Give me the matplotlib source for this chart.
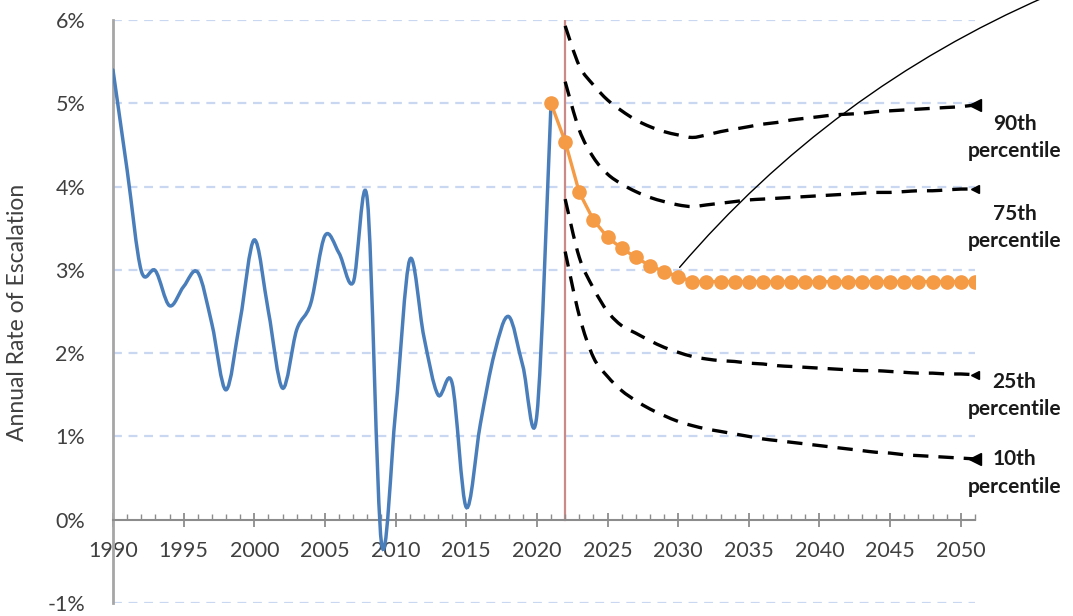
from matplotlib import pyplot as plt
from matplotlib.path import Path
from matplotlib.patches import PathPatch
import numpy as np

plt.rcParams['font.family'] = ['Lato', 'DejaVu Sans']

# historical annual escalation (%)
hist_years = list(range(1990, 2022))
hist_rate = [5.40, 4.20, 2.99, 2.99, 2.57, 2.80, 2.97, 2.35, 1.56, 2.40,
             3.36, 2.50, 1.58, 2.28, 2.60, 3.41, 3.20, 2.85, 3.84, -0.28,
             1.30, 3.12, 2.20, 1.50, 1.64, 0.15, 1.15, 2.00, 2.44, 1.85,
             1.26, 5.00]

# projection (orange)
proj_years = list(range(2021, 2052))
proj_rate = [5.00, 4.54, 3.93, 3.60, 3.39, 3.26, 3.15, 3.05, 2.98, 2.92,
             2.86, 2.86, 2.86, 2.86, 2.86, 2.86, 2.86, 2.86, 2.86, 2.86,
             2.86, 2.86, 2.86, 2.86, 2.86, 2.86, 2.86, 2.86, 2.86, 2.86,
             2.86]

# percentile bands
pct_years = list(range(2022, 2052))
p90 = [5.93, 5.45, 5.22, 5.04, 4.91, 4.80, 4.72, 4.66, 4.62, 4.59,
       4.62, 4.66, 4.69, 4.72, 4.75, 4.77, 4.80, 4.82, 4.84, 4.86,
       4.87, 4.88, 4.90, 4.91, 4.92, 4.93, 4.94, 4.95, 4.96, 4.98]
p75 = [5.26, 4.68, 4.35, 4.15, 4.03, 3.94, 3.87, 3.82, 3.78, 3.76,
       3.78, 3.80, 3.82, 3.84, 3.85, 3.86, 3.87, 3.88, 3.89, 3.90,
       3.91, 3.92, 3.93, 3.93, 3.94, 3.95, 3.95, 3.96, 3.97, 3.97]
p25 = [3.85, 3.15, 2.78, 2.50, 2.33, 2.24, 2.15, 2.07, 2.01, 1.96,
       1.93, 1.91, 1.90, 1.88, 1.87, 1.85, 1.84, 1.83, 1.82, 1.81,
       1.80, 1.79, 1.79, 1.78, 1.77, 1.76, 1.76, 1.75, 1.75, 1.74]
p10 = [3.22, 2.45, 1.95, 1.72, 1.55, 1.43, 1.33, 1.25, 1.18, 1.13,
       1.09, 1.06, 1.03, 1.00, 0.97, 0.95, 0.93, 0.91, 0.89, 0.87,
       0.85, 0.83, 0.81, 0.80, 0.78, 0.77, 0.76, 0.75, 0.74, 0.73]
pct_series = [p90, p75, p25, p10]
pct_labels = ['90th\npercentile', '75th\npercentile', '25th\npercentile', '10th\npercentile']
pct_label_y = [4.59, 3.51, 1.49, 0.56]
pct_marker_size = [9, 6, 6, 9]

yticks = [-1, 0, 1, 2, 3, 4, 5, 6]
ytick_labels = ['-1%', '0%', '1%', '2%', '3%', '4%', '5%', '6%']
xticks = list(range(1990, 2051, 5))


def smooth_path(x, y):
    # excel-like smoothed line: catmull-rom segments as cubic beziers
    x = np.asarray(x, float)
    y = np.asarray(y, float)
    px = np.concatenate([[x[0]], x, [x[-1]]])
    py = np.concatenate([[y[0]], y, [y[-1]]])
    verts = [(x[0], y[0])]
    codes = [Path.MOVETO]
    for i in range(1, len(px) - 2):
        c1 = (px[i] + (px[i+1] - px[i-1]) / 6, py[i] + (py[i+1] - py[i-1]) / 6)
        c2 = (px[i+1] - (px[i+2] - px[i]) / 6, py[i+1] - (py[i+2] - py[i]) / 6)
        verts += [c1, c2, (px[i+1], py[i+1])]
        codes += [Path.CURVE4] * 3
    return Path(verts, codes)


fig = plt.figure(figsize=(10.73, 6.16), dpi=100)
ax = fig.add_axes([0.1053, 0.0211, 0.8033, 0.9464])

ax.set_xlim(1990, 2051.0)
ax.set_ylim(-1, 6)

# grid
for yv in yticks:
    if yv != 0:
        ax.axhline(yv, color='#c9d8f0', lw=1.6, ls=(0, (4, 3)), zorder=0)

# red marker line at 2022
ax.plot([2022, 2022], [0, 6], color='#c98a88', lw=1.6, zorder=1)

ax.add_patch(PathPatch(smooth_path(hist_years, hist_rate), fill=False,
                       edgecolor='#4a7ebb', lw=2.5, capstyle='round', zorder=3))

for vals, ms in zip(pct_series, pct_marker_size):
    ax.add_patch(PathPatch(smooth_path(pct_years, vals), fill=False,
                           edgecolor='black', lw=2.4, ls=(0, (4.6, 3.0)), zorder=2))
    ax.plot(pct_years[-1], vals[-1], marker='<', ms=ms, color='black',
            clip_on=False, zorder=2)

ax.plot(proj_years, proj_rate, '-o', color='#f59a45', lw=2.4, ms=9.5, zorder=4)

for lab, yv in zip(pct_labels, pct_label_y):
    ax.text(2053.8, yv, lab, ha='center', va='center', fontsize=15,
            fontweight='bold', color='#1a1a1a', linespacing=1.45, clip_on=False)

ax.annotate('', xy=(2030.1, 3.03), xytext=(2056.0, 6.28),
            arrowprops=dict(arrowstyle='-', connectionstyle='arc3,rad=0.115',
                            color='black', lw=1.0, shrinkA=0, shrinkB=0),
            annotation_clip=False)

# axes styling
for s in ['top', 'right']:
    ax.spines[s].set_visible(False)
ax.spines['bottom'].set_position(('data', 0))
ax.spines['bottom'].set_color('#8c8c8c')
ax.spines['bottom'].set_linewidth(1.5)
ax.spines['left'].set_color('#a6a6a6')
ax.spines['left'].set_linewidth(2.0)

ax.set_xticks(xticks)
ax.set_xticks(range(1990, 2052), minor=True)
ax.tick_params(axis='x', which='major', direction='inout', length=10, width=1.3,
               color='#8c8c8c', labelsize=15.5, labelcolor='#404040', pad=10)
ax.tick_params(axis='x', which='minor', direction='in', length=4.5, width=1.0,
               color='#8c8c8c')
ax.set_yticks(yticks)
ax.set_yticklabels(ytick_labels)
ax.tick_params(axis='y', length=0, labelsize=15.5, labelcolor='#404040', pad=20)

ax.set_ylabel('Annual Rate of Escalation', fontsize=16.5, color='#404040')
ax.yaxis.set_label_coords(-0.099, 0.498)

plt.savefig('out.png', dpi=100)
